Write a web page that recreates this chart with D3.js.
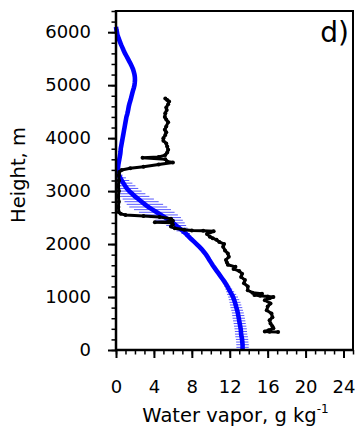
<!DOCTYPE html>
<html>
<head>
<meta charset="utf-8">
<script src="https://cdn.jsdelivr.net/npm/d3@7"></script>
<style>
  html, body { margin: 0; padding: 0; background: #fff; }
  svg { display: block; }
  text { font-family: "DejaVu Sans", sans-serif; fill: #000; }
</style>
</head>
<body>
<svg id="chart" width="358" height="427"></svg>
<script>
// Model levels (m) and mean water vapour (g/kg) with its spread
const modelLevels = [
  0,50,100,150,200,250,300,350,400,450,
  500,550,600,650,700,750,800,850,900,950,
  1000,1050,1100,1150,1200,1250,1300,1350,1400,1450,
  1500,1550,1600,1650,1700,1750,1800,1850,1900,1950,
  2000,2050,2100,2150,2200,2250,2300,2350,2400,2450,
  2500,2550,2600,2650,2700,2750,2800,2850,2900,2950,
  3000,3050,3100,3150,3200,3250,3300,3350,3400,3450,
  3500,3550,3600,3650,3700,3750,3800,3850,3900,3950,
  4000,4050,4100,4150,4200,4250,4300,4350,4400,4450,
  4500,4550,4600,4650,4700,4750,4800,4850,4900,4950,
  5000,5050,5100,5150,5200,5250,5300,5350,5400,5450,
  5500,5550,5600,5650,5700,5750,5800,5850,5900,5950,
  6000,6050,6100
];
const modelMean = [
  13.35,13.35,13.35,13.32,13.30,13.25,13.20,13.18,13.15,13.10,
  13.05,13.00,12.95,12.90,12.85,12.78,12.70,12.62,12.55,12.45,
  12.35,12.20,12.05,11.90,11.75,11.58,11.40,11.20,11.00,10.80,
  10.60,10.40,10.20,10.03,9.85,9.68,9.50,9.28,9.05,8.78,
  8.50,8.20,7.90,7.62,7.35,7.03,6.70,6.35,6.00,5.60,
  5.20,4.75,4.30,3.85,3.40,3.05,2.70,2.35,2.00,1.70,
  1.40,1.15,0.95,0.78,0.60,0.45,0.30,0.24,0.20,0.22,
  0.25,0.30,0.35,0.40,0.45,0.48,0.50,0.55,0.60,0.65,
  0.70,0.75,0.80,0.85,0.90,0.95,1.00,1.05,1.10,1.18,
  1.25,1.30,1.35,1.42,1.50,1.58,1.65,1.72,1.80,1.88,
  1.95,1.98,2.00,1.99,1.95,1.88,1.80,1.68,1.55,1.40,
  1.25,1.10,0.95,0.82,0.70,0.57,0.45,0.35,0.25,0.15,
  0.10,0.04,0.00
];
const modelStd = [
  0.65,0.65,0.66,0.65,0.65,0.66,0.65,0.64,0.65,0.65,
  0.64,0.65,0.65,0.64,0.63,0.62,0.62,0.60,0.58,0.55,
  0.52,0.48,0.42,0.36,0.30,0.25,0.22,0.20,0.20,0.20,
  0.20,0.20,0.20,0.20,0.20,0.20,0.20,0.20,0.20,0.20,
  0.20,0.22,0.25,0.32,0.45,0.65,0.85,1.05,1.25,1.45,
  1.65,1.78,1.88,1.95,2.00,1.92,1.80,1.65,1.52,1.40,
  1.30,1.20,1.10,0.95,0.80,0.60,0.40,0.25,0.15,0.10,
  0.10,0.10,0.10,0.10,0.10,0.10,0.10,0.10,0.10,0.10,
  0.10,0.10,0.10,0.10,0.10,0.10,0.10,0.10,0.10,0.10,
  0.10,0.10,0.10,0.10,0.10,0.10,0.10,0.10,0.10,0.10,
  0.10,0.10,0.10,0.10,0.10,0.10,0.10,0.10,0.10,0.10,
  0.10,0.10,0.10,0.10,0.10,0.10,0.10,0.10,0.10,0.10,
  0.10,0.05,0.05
];

// Sounding profile: height (m) and water vapour (g/kg)
const obsHeight = [
  340,345,350,375,410,450,500,560,620,690,
  750,820,880,940,975,1000,1010,1025,1040,1060,
  1080,1130,1200,1260,1320,1380,1440,1490,1530,1570,
  1610,1650,1700,1760,1820,1880,1950,2000,2040,2080,
  2110,2140,2190,2240,2250,2255,2270,2300,2330,2370,
  2400,2410,2420,2440,2480,2510,2530,2550,2570,2600,
  2700,2800,2900,3000,3100,3200,3300,3360,3400,3430,
  3460,3500,3540,3560,3600,3630,3645,3680,3730,3780,
  3840,3900,3950,4000,4060,4110,4160,4220,4300,4350,
  4400,4470,4530,4580,4640,4690,4720,4750
];
const obsVapor = [
  17.1,16.2,15.7,16.1,16.6,16.5,16.3,16.2,16.5,16.4,
  15.9,16.0,16.3,15.7,16.2,16.6,16.0,15.2,14.6,15.4,
  14.4,13.9,13.9,13.5,13.6,13.2,13.3,13.0,12.4,12.6,
  11.8,11.7,11.6,11.9,11.8,11.5,11.3,11.4,10.9,10.6,
  10.2,9.9,9.6,10.3,9.2,8.0,7.2,6.2,5.8,6.0,
  5.9,4.1,5.5,6.0,5.8,4.6,2.9,1.0,0.5,0.3,
  0.25,0.3,0.25,0.3,0.25,0.3,0.3,0.35,0.6,1.5,
  2.9,4.5,6.0,5.4,5.2,2.8,4.5,5.2,5.4,5.5,
  5.4,5.3,5.0,5.0,5.2,5.3,5.15,5.3,5.5,5.3,
  5.15,5.2,5.35,5.3,5.5,5.6,5.4,5.2
];

const xMajorTicks = [0, 4, 8, 12, 16, 20, 24];
const yMajorTicks = [0, 1000, 2000, 3000, 4000, 5000, 6000];

(function draw() {
  const svg = d3.select("#chart");
  const plotLeft = 116, plotRight = 353, plotTop = 11, plotBottom = 350;

  const x = d3.scaleLinear().domain([0, 25]).range([plotLeft, plotRight]);
  const y = d3.scaleLinear().domain([0, 6400]).range([plotBottom, plotTop]);

  svg.append("rect").attr("width", 358).attr("height", 427).attr("fill", "#fff");

  const plot = svg.append("g");

  // spread bars of the model profile
  plot.selectAll("line.err")
    .data(modelLevels.map((h, i) => ({ h, m: modelMean[i], s: modelStd[i] })))
    .join("line")
    .attr("class", "err")
    .attr("x1", d => x(Math.max(0, d.m - d.s)))
    .attr("x2", d => x(d.m + d.s))
    .attr("y1", d => y(d.h))
    .attr("y2", d => y(d.h))
    .attr("stroke", "#5858ff")
    .attr("stroke-width", 1);

  // model mean line
  plot.append("path")
    .datum(modelLevels.map((h, i) => [modelMean[i], h]))
    .attr("fill", "none")
    .attr("stroke", "#0000ff")
    .attr("stroke-width", 4.6)
    .attr("d", d3.line().x(d => x(d[0])).y(d => y(d[1])));

  // sounding profile
  const obs = obsHeight.map((h, i) => [obsVapor[i], h]);
  plot.append("path")
    .datum(obs)
    .attr("fill", "none")
    .attr("stroke", "#000")
    .attr("stroke-width", 3)
    .attr("stroke-linejoin", "round")
    .attr("d", d3.line().x(d => x(d[0])).y(d => y(d[1])));
  plot.selectAll("circle.obs")
    .data(obs)
    .join("circle")
    .attr("class", "obs")
    .attr("cx", d => x(d[0]))
    .attr("cy", d => y(d[1]))
    .attr("r", 2)
    .attr("fill", "#000");

  // frame
  svg.append("rect")
    .attr("x", plotLeft).attr("y", plotTop)
    .attr("width", plotRight - plotLeft).attr("height", plotBottom - plotTop)
    .attr("fill", "none").attr("stroke", "#000").attr("stroke-width", 2);

  // bottom axis: minor ticks every 1, major every 4
  const xMinor = d3.axisBottom(x).tickValues(d3.range(0, 26, 1)).tickSize(4.5).tickFormat("");
  const xMajor = d3.axisBottom(x).tickValues(xMajorTicks).tickSize(8).tickPadding(22).tickFormat(d3.format("d"));
  const gxm = svg.append("g").attr("transform", `translate(0,${plotBottom})`).call(xMinor);
  const gx = svg.append("g").attr("transform", `translate(0,${plotBottom})`).call(xMajor);
  [gxm, gx].forEach(g => g.select(".domain").remove());
  gxm.selectAll("line").attr("stroke", "#000").attr("stroke-width", 1.5);
  gx.selectAll("line").attr("stroke", "#000").attr("stroke-width", 2);
  gx.selectAll("text").attr("font-size", 18).attr("font-family", "DejaVu Sans").attr("fill", "#000");

  // left axis: minor ticks every 200 m, major every 1000 m
  const yMinor = d3.axisLeft(y).tickValues(d3.range(0, 6401, 200)).tickSize(4.5).tickFormat("");
  const yMajor = d3.axisLeft(y).tickValues(yMajorTicks).tickSize(8).tickPadding(17).tickFormat(d3.format("d"));
  const gym = svg.append("g").attr("transform", `translate(${plotLeft},0)`).call(yMinor);
  const gy = svg.append("g").attr("transform", `translate(${plotLeft},0)`).call(yMajor);
  [gym, gy].forEach(g => g.select(".domain").remove());
  gym.selectAll("line").attr("stroke", "#000").attr("stroke-width", 1.5);
  gy.selectAll("line").attr("stroke", "#000").attr("stroke-width", 2);
  gy.selectAll("text").attr("font-size", 18).attr("font-family", "DejaVu Sans").attr("fill", "#000");

  // axis lines drawn over the ticks
  svg.append("line").attr("x1", plotLeft - 1).attr("x2", plotRight + 1)
    .attr("y1", plotBottom).attr("y2", plotBottom)
    .attr("stroke", "#000").attr("stroke-width", 2.5);
  svg.append("line").attr("x1", plotLeft).attr("x2", plotLeft)
    .attr("y1", plotTop - 1).attr("y2", plotBottom + 1)
    .attr("stroke", "#000").attr("stroke-width", 2.5);

  // titles
  const xt = svg.append("text")
    .attr("x", (plotLeft + plotRight) / 2 + 1).attr("y", 422)
    .attr("text-anchor", "middle").attr("font-size", 19.5);
  xt.append("tspan").text("Water vapor, g kg");
  xt.append("tspan").attr("font-size", 12).attr("dy", -9).text("-1");

  svg.append("text")
    .attr("transform", "translate(25,175) rotate(-90)")
    .attr("text-anchor", "middle").attr("font-size", 19.5)
    .text("Height, m");

  svg.append("text")
    .attr("x", 349).attr("y", 42)
    .attr("text-anchor", "end").attr("font-size", 28)
    .text("d)");
})();
</script>
</body>
</html>
